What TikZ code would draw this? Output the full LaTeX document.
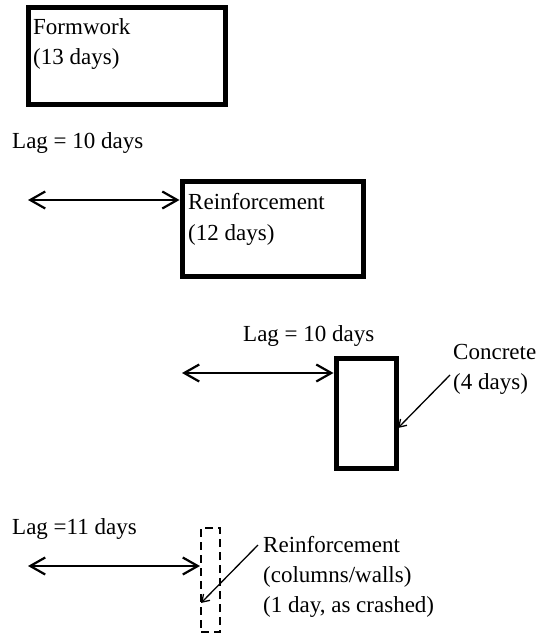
\documentclass[tikz,border=0pt]{standalone}
\usepackage{fontspec}
\setmainfont{Liberation Serif}
\usetikzlibrary{arrows.meta}
\begin{document}
\begin{tikzpicture}[x=1pt,y=-1pt,
  txt/.style={anchor=base west,inner sep=0pt,align=left,font=\fontsize{23}{30}\selectfont},
  dashbox/.style={draw,line width=2pt,dash pattern=on 8pt off 5pt},
  lagarrow/.style={line width=2.2pt,{Straight Barb[length=15pt,width=17pt]}-{Straight Barb[length=15pt,width=17pt]}},
  leader/.style={line width=1.3pt,-{Straight Barb[length=7pt,width=9pt]}}]
\useasboundingbox (0,0) rectangle (541,644);
% boxes
\node[draw,line width=5pt,minimum width=197pt,minimum height=97pt,inner sep=0pt] (fw) at (127,56) {};
\node[draw,line width=5pt,minimum width=181pt,minimum height=94pt,inner sep=0pt] (rf) at (272.5,229) {};
\node[draw,line width=5pt,minimum width=60pt,minimum height=110pt,inner sep=0pt] (cc) at (366,413) {};
\node[dashbox,minimum width=19pt,minimum height=104pt,inner sep=0pt] (rc) at (210.5,580) {};
% texts (anchored at the baseline of their last line)
\node[txt] (tfw) at (33,65) {Formwork\\(13 days)};
\node[txt] (lag1) at (12,149) {Lag = 10 days};
\node[txt] (trf) at (188,240) {Reinforcement\\(12 days)};
\node[txt] (lag2) at (243,341) {Lag = 10 days};
\node[txt] (tcc) at (453,389) {Concrete\\(4 days)};
\node[txt] (lag3) at (12,534) {Lag =11 days};
\node[txt] (trc) at (263,612) {Reinforcement\\(columns/walls)\\(1 day, as crashed)};
% lag arrows
\coordinate (a1) at (28,200);
\coordinate (a2) at (182,373);
\coordinate (a3) at (28,566);
\draw[lagarrow] (a1) -- (a1 -| rf.west);
\draw[lagarrow] (a2) -- (a2 -| cc.west);
\draw[lagarrow] (a3) -- (a3 -| rc.west);
% leaders
\coordinate (l1) at (450,375);
\coordinate (e1) at (398,428);
\coordinate (l2) at (258,545);
\coordinate (e2) at (201,603);
\draw[leader] (l1) -- (e1);
\draw[leader] (l2) -- (e2);
\end{tikzpicture}
\end{document}
